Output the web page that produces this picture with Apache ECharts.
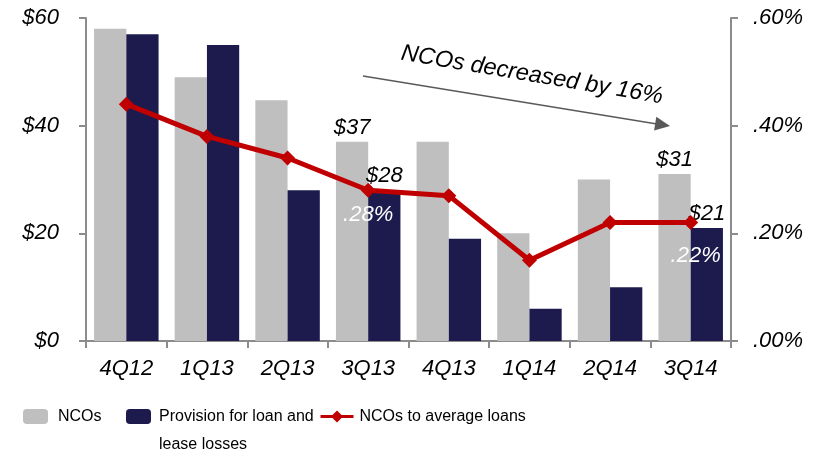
<!DOCTYPE html>
<html>
<head>
<meta charset="utf-8">
<script src="https://cdn.jsdelivr.net/npm/echarts@6/dist/echarts.min.js"></script>
<style>
html,body{margin:0;padding:0;background:#fff;}
#chart{width:835px;height:460px;}
</style>
</head>
<body>
<div id="chart"></div>
<script>
var quarters = ['4Q12','1Q13','2Q13','3Q13','4Q13','1Q14','2Q14','3Q14'];
var ncos = [58,49,44.7,37,37,20,30,31];
var provision = [57,55,28,28,19,6,10,21];
var ncoRatio = [0.44,0.38,0.34,0.28,0.27,0.15,0.22,0.22];
var labeledQuarters = ['3Q13','3Q14'];
var dollarTicks = [0,20,40,60];
var ratioTicks = [0,0.2,0.4,0.6];
var note = 'NCOs decreased by 16%';

var plotFont = '"Liberation Sans", Arial, sans-serif';
var legendFont = '"Liberation Sans Narrow", "Arial Narrow", "Liberation Sans", sans-serif';
var grey = '#BFBFBF', navy = '#1D1B4D', red = '#C00000', axisGrey = '#8C8C8C';

function fmtRatio(v) {
	return v.toFixed(2).replace(/^0/,'') + '%';
}
function isLabeled(i) {
	return labeledQuarters.indexOf(quarters[i]) != -1;
}

var labelBase = {
	fontFamily: plotFont,
	fontStyle: 'italic',
	fontSize: 22,
	color: '#000'
};

var ncoData = ncos.map(function(v,i) {
	return {value:v, label:{show:isLabeled(i), position:'top', distance:3, formatter:'${c}'}};
});
var provData = provision.map(function(v,i) {
	return {value:v, label:{show:isLabeled(i), position:'top', distance:3, formatter:'${c}'}};
});
var ratioData = ncoRatio.map(function(v,i) {
	var last = i == ncoRatio.length-1;
	return {value:v, label:{show:isLabeled(i), position:'bottom', distance: last ? 15 : 6, offset: last ? [5,0] : [0,0]}};
});

var myChart = echarts.init(document.getElementById('chart'), null, {renderer:'canvas'});

var legendText = {fontFamily:legendFont, fontSize:16, lineHeight:28, color:'#000'};

var option = {
	animation: false,
	grid: {left:86, right:104, top:18, bottom:119, containLabel:false},
	legend: [
		{
			data:['NCOs'], left:23, top:402.5, padding:0,
			itemWidth:25, itemHeight:15,
			textStyle:Object.assign({padding:[0,0,0,5]}, legendText)
		},
		{
			// leading blank line keeps the first text line level with the swatch
			data:['Provision for loan and lease losses'], left:126, top:374.5, padding:0,
			itemWidth:25, itemHeight:15,
			formatter:function() { return ' \nProvision for loan and\nlease losses'; },
			textStyle:Object.assign({padding:[0,0,0,3]}, legendText)
		},
		{
			data:['NCOs to average loans'], left:319, top:402.5, padding:0,
			itemWidth:33, itemHeight:15,
			lineStyle:{width:3},
			textStyle:Object.assign({padding:[0,0,0,1]}, legendText)
		}
	],
	xAxis: {
		type:'category',
		data: quarters,
		axisLine:{lineStyle:{color:axisGrey, width:2}},
		axisTick:{show:true, length:7, lineStyle:{color:axisGrey, width:2}},
		axisLabel:{fontFamily:plotFont, fontStyle:'italic', fontSize:22, color:'#000', margin:17}
	},
	yAxis: [
		{
			type:'value', min:dollarTicks[0], max:dollarTicks[dollarTicks.length-1], interval:dollarTicks[1]-dollarTicks[0],
			splitLine:{show:false},
			axisLine:{show:true, lineStyle:{color:axisGrey, width:2}},
			axisTick:{show:true, length:7, lineStyle:{color:axisGrey, width:2}},
			axisLabel:{fontFamily:plotFont, fontStyle:'italic', fontSize:22, color:'#000', margin:27,
				formatter:function(v) { return '$' + v; }}
		},
		{
			type:'value', min:ratioTicks[0], max:ratioTicks[ratioTicks.length-1], interval:ratioTicks[1]-ratioTicks[0],
			splitLine:{show:false},
			axisLine:{show:true, lineStyle:{color:axisGrey, width:2}},
			axisTick:{show:true, length:7, lineStyle:{color:axisGrey, width:2}},
			axisLabel:{fontFamily:plotFont, fontStyle:'italic', fontSize:22, color:'#000', margin:22,
				formatter:function(v) { return fmtRatio(v); }}
		}
	],
	series: [
		{
			name:'NCOs', type:'bar', data:ncoData,
			barGap:'0%', barCategoryGap:'20%',
			itemStyle:{color:grey},
			label:labelBase
		},
		{
			name:'Provision for loan and lease losses', type:'bar', data:provData,
			itemStyle:{color:navy},
			label:labelBase
		},
		{
			name:'NCOs to average loans', type:'line', yAxisIndex:1, data:ratioData,
			symbol:'diamond', symbolSize:15,
			lineStyle:{color:red, width:5},
			itemStyle:{color:red},
			label:{fontFamily:plotFont, fontStyle:'italic', fontSize:22, color:'#fff',
				formatter:function(p) { return fmtRatio(p.value); }},
			z:5
		}
	],
	graphic: [
		{type:'line', shape:{x1:363, y1:76, x2:657, y2:124}, style:{stroke:'#595959', lineWidth:1.5}, z:10},
		{type:'polygon', shape:{points:[[670,126],[654.1,130.5],[656.3,116.7]]}, style:{fill:'#595959'}, z:10},
		{type:'text', x:532, y:75, rotation:-0.166,
			style:{text:note, fontFamily:plotFont, fontStyle:'italic', fontSize:23.5, fill:'#000', align:'center', verticalAlign:'middle'}, z:10}
	]
};

myChart.setOption(option);
</script>
</body>
</html>
